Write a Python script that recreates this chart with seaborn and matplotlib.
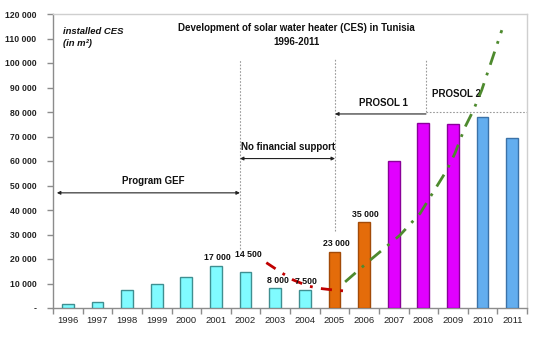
import matplotlib
matplotlib.use("Agg")
import matplotlib.pyplot as plt
import seaborn as sns
import pandas as pd
from matplotlib.ticker import FixedLocator

years = ["1996", "1997", "1998", "1999", "2000", "2001", "2002", "2003",
         "2004", "2005", "2006", "2007", "2008", "2009", "2010", "2011"]
installed = [1800, 2500, 7500, 10000, 12500, 17000, 14500, 8000,
             7500, 23000, 35000, 60000, 75500, 75000, 78000, 69500]
phase = ["gef"] * 9 + ["gap"] * 2 + ["p1"] * 3 + ["p2"] * 2

label_years = ["2001", "2002", "2003", "2004", "2005", "2006"]
label_texts = ["17 000", "14 500", "8 000", "7 500", "23 000", "35 000"]

# trend lines (category-index positions, values)
red_x = [6.7, 7.2, 7.6, 8.1, 8.5, 9.0, 9.3]
red_y = [18500, 14500, 11500, 9000, 8000, 7300, 7000]
green_x = [9.36, 10.2, 11.21, 11.89, 12.34, 12.79, 13.07, 13.41, 13.69, 13.97, 14.31, 14.65]
green_y = [10650, 19500, 29700, 38600, 47400, 56200, 63200, 73900, 80700, 88900, 101100, 113400]

yticks = [0, 10000, 20000, 30000, 40000, 50000, 60000, 70000, 80000,
          90000, 100000, 110000, 120000]

fills = {"gef": "#80FBFF", "gap": "#E46C0A", "p1": "#E100FF", "p2": "#63AEEF"}
edges = {"gef": "#3F8F91", "gap": "#A24A08", "p1": "#8A0099", "p2": "#3B72A8"}

df = pd.DataFrame({"year": years, "value": installed, "phase": phase})

sns.set_theme(style="white")
plt.rcParams["font.family"] = ["Liberation Sans", "DejaVu Sans"]

fig = plt.figure(figsize=(5.53, 3.44), dpi=100)
ax = fig.add_axes([53 / 553, 36 / 344, 474 / 553, 294 / 344])

sns.barplot(data=df, x="year", y="value", hue="phase", palette=fills,
            width=0.4, dodge=False, legend=False, ax=ax, linewidth=1.0,
            saturation=1)
for cont, ph in zip(ax.containers, ["gef", "gap", "p1", "p2"]):
    for p in cont.patches:
        p.set_edgecolor(edges[ph])
        p.set_linewidth(1.0)
        p.set_zorder(3)

ax.set_xlim(-0.5, 15.5)
ax.set_ylim(0, 120000)
ax.set_xlabel("")
ax.set_ylabel("")

# spines
for s in ["top", "right"]:
    ax.spines[s].set_color("#CFCFCF")
    ax.spines[s].set_linewidth(1.0)
for s in ["left", "bottom"]:
    ax.spines[s].set_color("#8C8C8C")
    ax.spines[s].set_linewidth(1.0)

ax.set_yticks(yticks)
ax.set_yticklabels(["-"] + [f"{v // 1000} 000" for v in yticks[1:]],
                   fontsize=6.2, fontweight="bold", color="#222222")
ax.tick_params(axis="y", which="major", direction="out", length=4,
               color="#8C8C8C", width=1, left=True, pad=8)
ax.set_xticks(range(len(years)))
ax.set_xticklabels(years, fontsize=6.8, color="#222222")
ax.tick_params(axis="x", which="major", length=0, pad=6)
ax.xaxis.set_minor_locator(FixedLocator([i + 0.5 for i in range(-1, 16)]))
ax.tick_params(axis="x", which="minor", direction="out", length=4,
               color="#8C8C8C", width=1, bottom=True)
ax.grid(False)

# period markers
vcol = "#9A9A9A"
ax.plot([5.81, 5.81], [24000, 101500], ls=(0, (1.5, 1.5)), color=vcol, lw=0.8, zorder=2)
ax.plot([9.02, 9.02], [31500, 101500], ls=(0, (1.5, 1.5)), color=vcol, lw=0.8, zorder=2)
ax.plot([12.09, 12.09], [80000, 101500], ls=(0, (1.5, 1.5)), color=vcol, lw=0.8, zorder=2)
ax.plot([12.09, 15.5], [80000, 80000], ls=(0, (1.5, 1.5)), color=vcol, lw=0.8, zorder=2)

arrow_kw = dict(arrowstyle="<|-|>", color="#222222", lw=0.8,
                mutation_scale=5, shrinkA=0, shrinkB=0)
ax.annotate("", xy=(-0.37, 47000), xytext=(5.81, 47000), arrowprops=arrow_kw)
ax.annotate("", xy=(5.81, 61000), xytext=(9.02, 61000), arrowprops=arrow_kw)
ax.annotate("", xy=(9.02, 79200), xytext=(12.09, 79200),
            arrowprops=dict(arrowstyle="-|>", color="#222222", lw=0.8,
                            mutation_scale=5, shrinkA=0, shrinkB=0))

tkw = dict(fontsize=7, fontweight="bold", color="#111111")
ax.text(2.88, 52000, "Program GEF", ha="center", va="center", **tkw)
ax.text(7.45, 65800, "No financial support", ha="center", va="center", **tkw)
ax.text(10.64, 83500, "PROSOL 1", ha="center", va="center", **tkw)
ax.text(12.28, 87400, "PROSOL 2", ha="left", va="center", **tkw)

# trend lines
ax.plot(red_x, red_y, color="#C00000", lw=2.0, ls=(0, (4, 3, 1, 3)), zorder=4)
ax.plot(green_x, green_y, color="#4E8A2E", lw=2.0, ls=(0, (5, 3, 1, 3)), zorder=4)

# value labels
label_pos = {"2001": (5.05, 20700), "2002": (6.1, 22000), "2003": (7.1, 11300),
             "2004": (8.04, 11000), "2005": (9.05, 26400), "2006": (10.03, 38300)}
for yr, txt in zip(label_years, label_texts):
    px, py = label_pos[yr]
    ax.text(px, py, txt, ha="center", va="center", fontsize=6.3,
            fontweight="bold", color="#111111", zorder=5)

# titles
fig.text(296 / 553, 1 - 28 / 344, "Development of solar water heater (CES) in Tunisia",
         ha="center", va="center", fontsize=7, fontweight="bold", color="#111111")
fig.text(296 / 553, 1 - 42 / 344, "1996-2011",
         ha="center", va="center", fontsize=7, fontweight="bold", color="#111111")
fig.text(63 / 553, 1 - 31 / 344, "installed CES", ha="left", va="center",
         fontsize=6.8, fontweight="bold", fontstyle="italic", color="#111111")
fig.text(63 / 553, 1 - 44 / 344, "(in m²)", ha="left", va="center",
         fontsize=6.8, fontweight="bold", fontstyle="italic", color="#111111")

fig.savefig("out.png", dpi=100, facecolor="white")
